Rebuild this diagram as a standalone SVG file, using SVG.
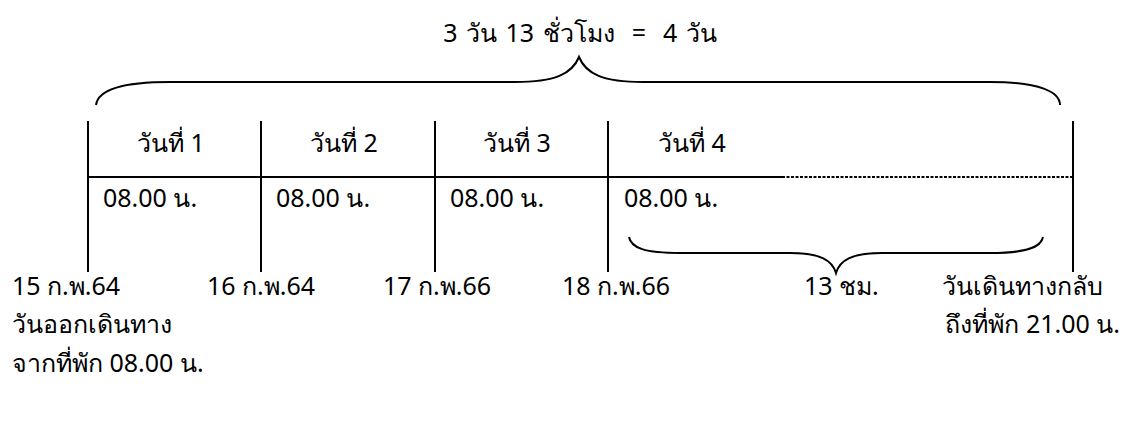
<svg xmlns="http://www.w3.org/2000/svg" width="1133" height="423" viewBox="0 0 1133 423">
<style>
text{font-family:"Noto Sans","DejaVu Sans",sans-serif;font-size:25px;fill:#000;white-space:pre}
.ln{stroke:#000;stroke-width:2;fill:none}
.dash{stroke:#000;stroke-width:2;fill:none;stroke-dasharray:3 1.5}
.br{stroke:#000;stroke-width:2;fill:none}
</style>
<rect width="1133" height="423" fill="#fff"/>
<g id="title"><text x="580" y="42" text-anchor="middle" word-spacing="2">3 วัน 13 ชั่วโมง  =  4 วัน</text></g>
<g id="connectors">
<path class="br" d="M96,105 C98,90 120,82 170,82 L515,82 C555,82 572,74 579,57 C586,74 603,82 643,82 L990,82 C1040,82 1060,92 1060,105"/>
<path class="br" d="M629,237 C631,248 645,253 680,253 L790,253 C820,253 832,260 836,273 C840,260 852,253 882,253 L990,253 C1025,253 1041,248 1043,237"/>
<line class="ln" x1="88" y1="121" x2="88" y2="272"/>
<line class="ln" x1="261" y1="121" x2="261" y2="272"/>
<line class="ln" x1="435" y1="121" x2="435" y2="272"/>
<line class="ln" x1="608" y1="121" x2="608" y2="272"/>
<line class="ln" x1="1073" y1="121" x2="1073" y2="272"/>
<line class="ln" x1="87" y1="177" x2="782" y2="177"/>
<line class="dash" x1="782" y1="177" x2="1073" y2="177"/>
</g>
<g id="day1"><text x="137" y="152">วันที่ 1</text><text x="103" y="207">08.00 น.</text></g>
<g id="day2"><text x="310" y="152">วันที่ 2</text><text x="276" y="207">08.00 น.</text></g>
<g id="day3"><text x="483" y="152">วันที่ 3</text><text x="450" y="207">08.00 น.</text></g>
<g id="day4"><text x="658" y="152">วันที่ 4</text><text x="624" y="207">08.00 น.</text></g>
<g id="dates">
<text x="12" y="295">15 ก.พ.64</text>
<text x="207" y="295">16 ก.พ.64</text>
<text x="383" y="295">17 ก.พ.66</text>
<text x="562" y="295">18 ก.พ.66</text>
<text x="804" y="295">13 ชม.</text>
</g>
<g id="depart"><text x="12" y="333">วันออกเดินทาง</text><text x="12" y="372">จากที่พัก 08.00 น.</text></g>
<g id="return"><text x="1103" y="295" text-anchor="end">วันเดินทางกลับ</text><text x="1120" y="333" text-anchor="end">ถึงที่พัก 21.00 น.</text></g>
</svg>
